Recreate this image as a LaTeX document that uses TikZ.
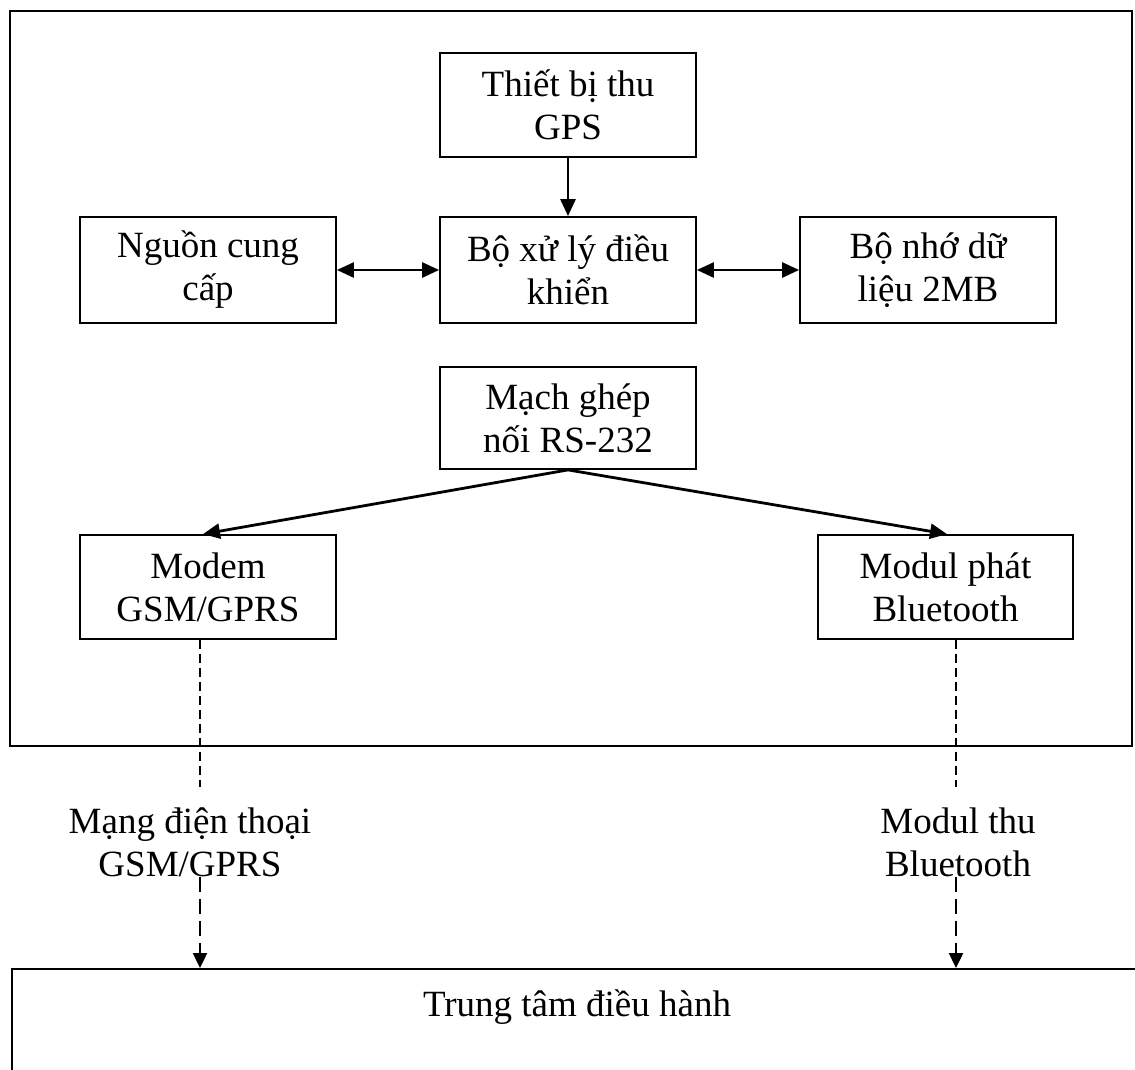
\documentclass[tikz,border=0pt]{standalone}
\usepackage{fontspec}
\setmainfont{Liberation Serif}
\usetikzlibrary{arrows.meta,calc}
\begin{document}
\begin{tikzpicture}[x=0.5pt,y=-0.5pt,
  box/.style={draw, line width=0.9pt, inner sep=0pt, minimum width=128pt, minimum height=52pt, align=center, font=\fontsize{18.5}{21.5}\selectfont},
  txt/.style={inner sep=0pt, align=center, font=\fontsize{18.5}{21.5}\selectfont},
  frame/.style={draw, line width=1.1pt, inner sep=0pt},
  tip/.style={},
  arr/.style={line width=1.4pt, -{Triangle[length=8.5pt,width=7.5pt]}},
  darr/.style={line width=1.4pt, {Triangle[length=8.5pt,width=7.5pt]}-{Triangle[length=8.5pt,width=7.5pt]}},
  dline/.style={line width=0.8pt, dash pattern=on 4.5pt off 2.5pt},
  darrow/.style={line width=1.2pt, dash pattern=on 7.5pt off 3.5pt, -{Triangle[length=7.5pt,width=7pt]}}
]
\useasboundingbox (0,0) rectangle (1135,1070);

% outer frame
\node[frame, minimum width=561pt, minimum height=367.5pt] (outer) at (571,378.5) {};

% blocks
\node[box] (gps) at (568,105) {Thiết bị thu\\GPS};
\node[box, minimum height=53pt] (cpu) at (568,270) {Bộ xử lý điều\\khiển};
\node[box, minimum height=53pt] (psu) at (208,270) {Nguồn cung\\cấp};
\node[box, minimum height=53pt] (mem) at (928,270) {Bộ nhớ dữ\\liệu 2MB};
\node[box, minimum height=51pt] (rs) at (568,418) {Mạch ghép\\nối RS-232};
\node[box] (modem) at (208,587) {Modem\\GSM/GPRS};
\node[box, minimum width=127.5pt] (bt) at (945.5,587) {Modul phát\\Bluetooth};

% connectors
\draw[arr] (gps) -- (cpu);
\draw[darr] (psu) -- (cpu);
\draw[darr] (cpu) -- (mem);
\draw[arr] (rs.south) -- ($(modem.north)+(-5,0)$);
\draw[arr] (rs.south) -- ($(bt.north)+(1.5,0)$);

% outside labels
\coordinate (m1) at (200,787);
\coordinate (b1) at (956,787);
\draw[dline] (modem.south -| m1) -- (m1);
\draw[dline] (bt.south -| b1) -- (b1);

\node[txt] (netlbl) at (190,842) {Mạng điện thoại\\GSM/GPRS};
\node[txt] (btlbl) at (958,842) {Modul thu\\Bluetooth};

% control centre (cut by page edge)
\node[frame, anchor=north west, minimum width=600pt, minimum height=100pt] (ctr) at (11,968) {};
\node[txt, anchor=base] (ctrtext) at (577,1016) {Trung tâm điều hành};

\draw[darrow] (netlbl.south -| m1) -- (ctr.north -| m1);
\draw[darrow] (btlbl.south -| b1) -- (ctr.north -| b1);
\end{tikzpicture}
\end{document}
